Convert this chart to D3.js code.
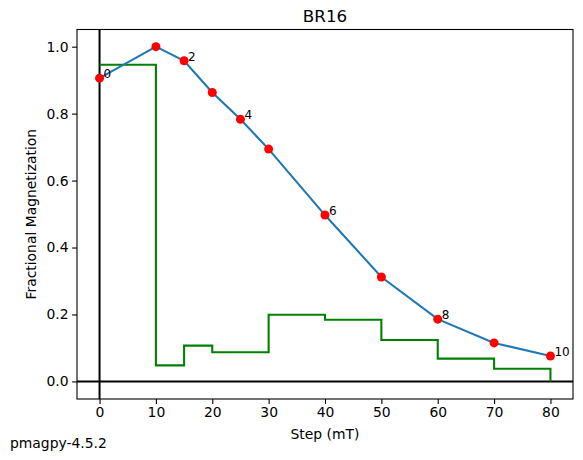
<!DOCTYPE html>
<html>
<head>
<meta charset="utf-8">
<script src="https://cdn.jsdelivr.net/npm/d3@7"></script>
<style>
  body { margin: 0; background: #fff; }
  text { font-family: "DejaVu Sans", sans-serif; fill: #000; }
</style>
</head>
<body>
<svg id="chart" width="583" height="460"></svg>
<script>
// demag steps (mT) and normalized magnetization
var steps = [0, 10, 15, 20, 25, 30, 40, 50, 60, 70, 80];
var magnetization = [0.906, 1.0, 0.958, 0.863, 0.783, 0.694, 0.497, 0.312, 0.186, 0.115, 0.076];

// vector difference sum, drawn as steps
var vdsSteps = [0, 10, 15, 20, 30, 40, 50, 60, 70, 80];
var vdsValues = [0.946, 0.048, 0.107, 0.087, 0.199, 0.184, 0.124, 0.068, 0.038, 0.0];

var xTicks = [0, 10, 20, 30, 40, 50, 60, 70, 80];
var yTicks = [0.0, 0.2, 0.4, 0.6, 0.8, 1.0];

var svg = d3.select("#chart"),
    plotL = 77, plotR = 573, plotT = 29.5, plotB = 399;

var x = d3.scaleLinear().domain([-4, 84]).range([plotL, plotR]);
var y = d3.scaleLinear().domain([-0.0525, 1.0513]).range([plotB, plotT]);

// axes
var xAxis = svg.append("g")
    .attr("transform", "translate(0," + plotB + ")")
    .call(d3.axisBottom(x).tickValues(xTicks).tickSize(4.9).tickPadding(3.5));
var yAxis = svg.append("g")
    .attr("transform", "translate(" + plotL + ",0)")
    .call(d3.axisLeft(y).tickValues(yTicks).tickFormat(d3.format(".1f")).tickSize(4.9).tickPadding(3.5));

[xAxis, yAxis].forEach(function(a) {
  a.select(".domain").remove();
  a.selectAll(".tick line").attr("stroke", "#000").attr("stroke-width", 1.1);
  a.selectAll(".tick text").attr("font-size", 13.9).attr("font-family", "DejaVu Sans");
});

// zero lines
svg.append("line")
    .attr("x1", x(0)).attr("x2", x(0))
    .attr("y1", plotT).attr("y2", plotB)
    .attr("stroke", "#000").attr("stroke-width", 2);
svg.append("line")
    .attr("x1", plotL).attr("x2", plotR)
    .attr("y1", y(0)).attr("y2", y(0))
    .attr("stroke", "#000").attr("stroke-width", 2);

// step line
var vds = vdsSteps.map(function(s, i) { return [s, vdsValues[i]]; });
svg.append("path")
    .datum(vds)
    .attr("fill", "none")
    .attr("stroke", "#008000")
    .attr("stroke-width", 2.08)
    .attr("d", d3.line()
        .x(function(d) { return x(d[0]); })
        .y(function(d) { return y(d[1]); })
        .curve(d3.curveStepAfter));

// magnetization curve
var pts = steps.map(function(s, i) { return [s, magnetization[i]]; });
svg.append("path")
    .datum(pts)
    .attr("fill", "none")
    .attr("stroke", "#1f77b4")
    .attr("stroke-width", 2.08)
    .attr("d", d3.line()
        .x(function(d) { return x(d[0]); })
        .y(function(d) { return y(d[1]); }));

svg.append("g")
  .selectAll("circle")
  .data(pts)
  .enter().append("circle")
    .attr("cx", function(d) { return x(d[0]); })
    .attr("cy", function(d) { return y(d[1]); })
    .attr("r", 4.5)
    .attr("fill", "#ff0000");

// step numbers on every other point
svg.append("g")
  .selectAll("text")
  .data(pts.filter(function(d, i) { return i % 2 === 0; }))
  .enter().append("text")
    .attr("x", function(d) { return x(d[0]) + 4; })
    .attr("y", function(d) { return y(d[1]); })
    .attr("font-size", 12)
    .text(function(d) { return String(pts.indexOf(d)); });

// frame
svg.append("rect")
    .attr("x", plotL).attr("y", plotT)
    .attr("width", plotR - plotL).attr("height", plotB - plotT)
    .attr("fill", "none").attr("stroke", "#000").attr("stroke-width", 1.1);

// labels
svg.append("text")
    .attr("x", (plotL + plotR) / 2).attr("y", 22)
    .attr("text-anchor", "middle").attr("font-size", 16.7)
    .text("BR16");
svg.append("text")
    .attr("x", (plotL + plotR) / 2).attr("y", 438.5)
    .attr("text-anchor", "middle").attr("font-size", 13.9)
    .text("Step (mT)");
svg.append("text")
    .attr("transform", "translate(36," + ((plotT + plotB) / 2) + ") rotate(-90)")
    .attr("text-anchor", "middle").attr("font-size", 13.9)
    .text("Fractional Magnetization");
svg.append("text")
    .attr("x", 10).attr("y", 448)
    .attr("font-size", 13.9)
    .text("pmagpy-4.5.2");
</script>
</body>
</html>
